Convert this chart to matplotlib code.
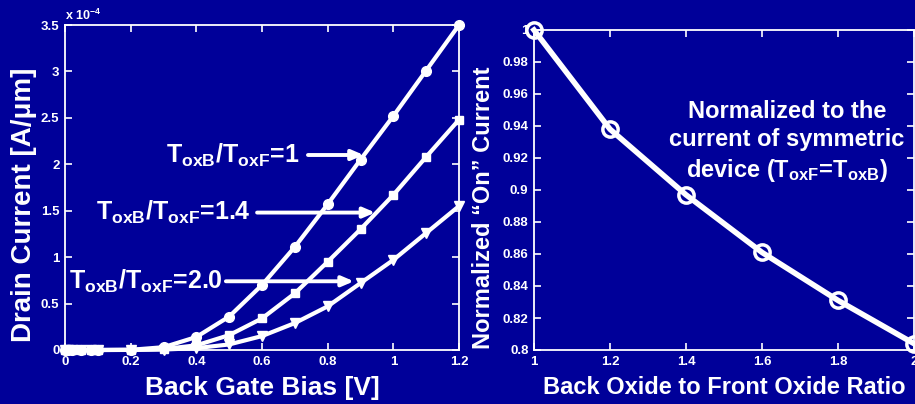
import matplotlib
matplotlib.use("Agg")
import matplotlib.pyplot as plt
from matplotlib.ticker import FuncFormatter, FixedLocator

plt.rcParams['font.family'] = ['Liberation Sans', 'DejaVu Sans']
plt.rcParams['font.weight'] = 'bold'
plt.rcParams['mathtext.fontset'] = 'custom'
plt.rcParams['mathtext.rm'] = 'Liberation Sans:bold'
plt.rcParams['mathtext.it'] = 'Liberation Sans:bold'
plt.rcParams['mathtext.bf'] = 'Liberation Sans:bold'

BG = '#000099'
FG = 'white'

# Drain current vs back gate bias (A/um)
bias = [0, 0.01, 0.02, 0.05, 0.08, 0.1, 0.2, 0.3, 0.4, 0.5, 0.6, 0.7, 0.8, 0.9, 1.0, 1.1, 1.2]
id_ratio_1 = [0, 0, 0, 0, 0, 0, 0.002e-4, 0.03e-4, 0.14e-4, 0.36e-4, 0.70e-4, 1.11e-4,
              1.57e-4, 2.05e-4, 2.52e-4, 3.01e-4, 3.50e-4]
id_ratio_14 = [0, 0, 0, 0, 0, 0, 0.001e-4, 0.01e-4, 0.05e-4, 0.16e-4, 0.34e-4, 0.61e-4,
               0.95e-4, 1.30e-4, 1.67e-4, 2.08e-4, 2.48e-4]
id_ratio_20 = [0, 0, 0, 0, 0, 0, 0.001e-4, 0.005e-4, 0.02e-4, 0.06e-4, 0.15e-4, 0.29e-4,
               0.47e-4, 0.72e-4, 0.97e-4, 1.26e-4, 1.55e-4]
left_yticks = [0, 0.5e-4, 1e-4, 1.5e-4, 2e-4, 2.5e-4, 3e-4, 3.5e-4]
left_xticks = [0, 0.2, 0.4, 0.6, 0.8, 1.0, 1.2]

# Normalized on-current vs oxide thickness ratio
oxide_ratio = [1.0, 1.2, 1.4, 1.6, 1.8, 2.0]
norm_on = [1.0, 0.938, 0.897, 0.861, 0.831, 0.804]
right_yticks = [0.8, 0.82, 0.84, 0.86, 0.88, 0.9, 0.92, 0.94, 0.96, 0.98, 1.0]
right_xticks = [1, 1.2, 1.4, 1.6, 1.8, 2]

W, H = 915, 404
fig = plt.figure(figsize=(W / 100, H / 100), dpi=100, facecolor=BG)
TICK_FS = 9.5


def px_axes(x0, y0, x1, y1):
    return fig.add_axes([x0 / W, 1 - y1 / H, (x1 - x0) / W, (y1 - y0) / H])


def style(ax):
    ax.set_facecolor(BG)
    for s in ax.spines.values():
        s.set_color(FG)
        s.set_linewidth(1.3)
    ax.tick_params(direction='in', length=5, width=1.2, colors=FG,
                   top=True, right=True, labelsize=TICK_FS, pad=4)


def gfmt(v, _):
    return f'{v:.2f}'.rstrip('0').rstrip('.')


def bold_ticks(ax):
    for lab in ax.get_xticklabels() + ax.get_yticklabels():
        lab.set_fontweight('bold')


# ---- left panel ----
ax1 = px_axes(65, 25, 459, 350)
style(ax1)
lw = 3.0
ax1.plot(bias, id_ratio_1, '-o', color=FG, lw=lw, ms=7, clip_on=False, zorder=3)
ax1.plot(bias, id_ratio_14, '-s', color=FG, lw=lw, ms=5.5, clip_on=False, zorder=3)
ax1.plot(bias, id_ratio_20, '-v', color=FG, lw=lw, ms=7, clip_on=False, zorder=3)
ax1.set_xlim(0, 1.2)
ax1.set_ylim(0, 3.5e-4)
ax1.xaxis.set_major_locator(FixedLocator(left_xticks))
ax1.yaxis.set_major_locator(FixedLocator(left_yticks))
ax1.xaxis.set_major_formatter(FuncFormatter(gfmt))
ax1.yaxis.set_major_formatter(FuncFormatter(lambda v, _: gfmt(v / 1e-4, _)))
bold_ticks(ax1)
ax1.text(0.0, 1.005, r'x 10$^{-4}$', transform=ax1.transAxes, color=FG,
         fontsize=9, fontweight='bold', ha='left', va='bottom')
ax1.set_xlabel('Back Gate Bias [V]', color=FG, fontsize=19, fontweight='bold', labelpad=6)
ax1.set_ylabel('Drain Current [A/\u03bcm]', color=FG, fontsize=20, fontweight='bold')
ax1.yaxis.set_label_coords(-0.07, 0.446)

ann_kw = dict(color=FG, fontsize=18, fontweight='bold', va='center', ha='right')
arrow_kw = dict(arrowstyle='-|>,head_length=0.7,head_width=0.3', color=FG, lw=2.8,
                shrinkA=0, shrinkB=0)
labels = [r'T$_{\rm oxB}$/T$_{\rm oxF}$=1', r'T$_{\rm oxB}$/T$_{\rm oxF}$=1.4',
          r'T$_{\rm oxB}$/T$_{\rm oxF}$=2.0']
# (text end, arrow start, arrow tip, y) in data coordinates
ann_pos = [(0.715, 0.74, 0.91, 2.10e-4), (0.565, 0.585, 0.945, 1.48e-4),
           (0.48, 0.49, 0.88, 0.74e-4)]
for lab, (xt, xs, xe, yy) in zip(labels, ann_pos):
    ax1.text(xt, yy, lab, **ann_kw)
    ax1.annotate('', xy=(xe, yy), xytext=(xs, yy), arrowprops=arrow_kw)

# ---- right panel ----
ax2 = px_axes(534, 30, 914, 350)
style(ax2)
ax2.plot(oxide_ratio, norm_on, '-o', color=FG, lw=4, ms=11, mfc='none', mew=2.5,
         clip_on=False, zorder=3)
ax2.set_xlim(1, 2)
ax2.set_ylim(0.8, 1.0)
ax2.xaxis.set_major_locator(FixedLocator(right_xticks))
ax2.yaxis.set_major_locator(FixedLocator(right_yticks))
ax2.xaxis.set_major_formatter(FuncFormatter(gfmt))
ax2.yaxis.set_major_formatter(FuncFormatter(gfmt))
bold_ticks(ax2)
ax2.set_xlabel('Back Oxide to Front Oxide Ratio', color=FG, fontsize=17,
               fontweight='bold', labelpad=6)
ax2.set_ylabel('Normalized \u201cOn\u201d Current', color=FG, fontsize=17,
               fontweight='bold')
ax2.yaxis.set_label_coords(-0.103, 0.444)
ax2.text(1.665, 0.93, 'Normalized to the\ncurrent of symmetric\n'
         r'device (T$_{\rm oxF}$=T$_{\rm oxB}$)',
         color=FG, fontsize=17, fontweight='bold', ha='center', va='center',
         linespacing=1.3)

fig.savefig('out.png', dpi=100, facecolor=BG)
